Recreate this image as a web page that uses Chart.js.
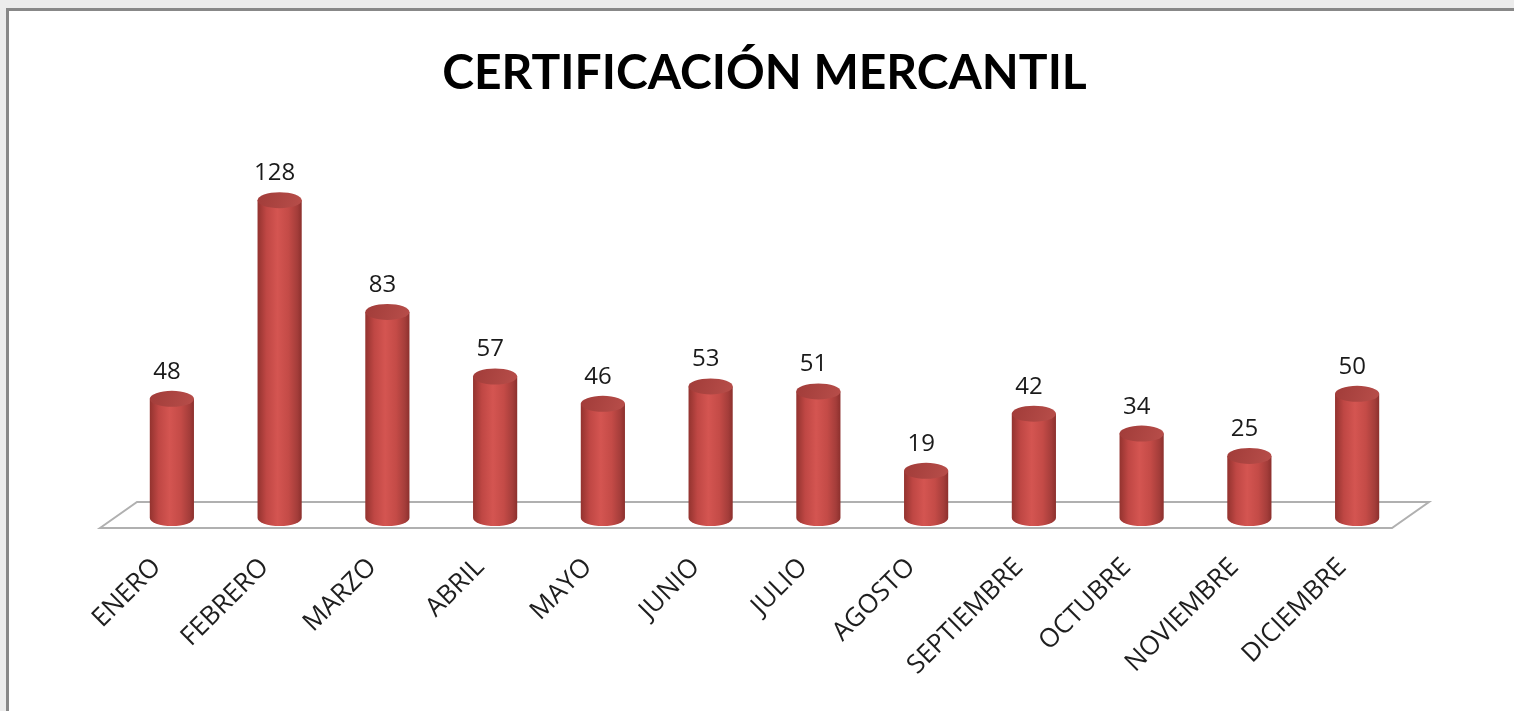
<!DOCTYPE html>
<html>
<head>
<meta charset="utf-8">
<script src="https://cdn.jsdelivr.net/npm/chart.js@4"></script>
<style>
	html, body { margin: 0; padding: 0; background: #ececec; overflow: hidden; }
	#frame {
		position: absolute; left: 6px; top: 8px; width: 1520px; height: 720px;
		background: #fff; border-left: 3px solid #888; border-top: 3px solid #888;
	}
	#chartBox { position: absolute; left: 0; top: 0; width: 1514px; height: 711px; }
</style>
</head>
<body>
<div id="frame"></div>
<div id="chartBox"><canvas id="graph"></canvas></div>
<script>
/*-------------------------------------------------------------------------*/
// Data
/*-------------------------------------------------------------------------*/
var meses = ['ENERO', 'FEBRERO', 'MARZO', 'ABRIL', 'MAYO', 'JUNIO', 'JULIO',
	'AGOSTO', 'SEPTIEMBRE', 'OCTUBRE', 'NOVIEMBRE', 'DICIEMBRE'];
var certificaciones = [48, 128, 83, 57, 46, 53, 51, 19, 42, 34, 25, 50];
var tituloGrafico = 'CERTIFICACIÓN MERCANTIL';

/*-------------------------------------------------------------------------*/
// Floor plane under the bars
/*-------------------------------------------------------------------------*/
var floorPlugin = {
	id: 'floor',
	beforeDatasetsDraw: function(chart) {
		var ctx = chart.ctx, a = chart.chartArea;
		var base = chart.scales.y.getPixelForValue(0);
		var fy = base + 10, by = base - 16;
		ctx.save();
		ctx.beginPath();
		ctx.moveTo(a.left - 18, fy);
		ctx.lineTo(a.left + 19, by);
		ctx.lineTo(a.right + 18, by);
		ctx.lineTo(a.right - 19, fy);
		ctx.closePath();
		ctx.fillStyle = '#fff';
		ctx.fill();
		ctx.lineWidth = 2;
		ctx.strokeStyle = '#b0b0b0';
		ctx.stroke();
		ctx.restore();
	}
};

/*-------------------------------------------------------------------------*/
// Cylinders + value labels
/*-------------------------------------------------------------------------*/
var cylinderPlugin = {
	id: 'cylinder',
	afterDatasetsDraw: function(chart) {
		var ctx = chart.ctx;
		var meta = chart.getDatasetMeta(0);
		ctx.save();
		meta.data.forEach(function(bar, i) {
			var rx = bar.width / 2, ry = 8;
			var x = bar.x, top = bar.y, base = bar.base;
			var g = ctx.createLinearGradient(x - rx, 0, x + rx, 0);
			g.addColorStop(0, '#93332f');
			g.addColorStop(0.2, '#bf4744');
			g.addColorStop(0.45, '#d45551');
			g.addColorStop(0.7, '#c44b47');
			g.addColorStop(0.9, '#a43d3a');
			g.addColorStop(1, '#8c302d');
			ctx.beginPath();
			ctx.moveTo(x - rx, top);
			ctx.lineTo(x - rx, base);
			ctx.ellipse(x, base, rx, ry, 0, Math.PI, 0, true);
			ctx.lineTo(x + rx, top);
			ctx.closePath();
			ctx.fillStyle = g;
			ctx.fill();
			var gt = ctx.createLinearGradient(x - rx, top - ry, x + rx, top + ry);
			gt.addColorStop(0, '#a13c39');
			gt.addColorStop(1, '#b84e4a');
			ctx.beginPath();
			ctx.ellipse(x, top, rx, ry, 0, 0, Math.PI * 2);
			ctx.fillStyle = gt;
			ctx.fill();

			ctx.fillStyle = '#1a1a1a';
			ctx.font = '24px "Open Sans"';
			ctx.textAlign = 'center';
			ctx.textBaseline = 'alphabetic';
			ctx.fillText(String(certificaciones[i]), x - 5, top - 20);
		});
		ctx.restore();
	}
};

function CM_graph_certificaciones(graphCTX) {
	var data = {
		type: 'bar',
		data: {
			labels: meses,
			datasets: [{
				data: certificaciones,
				backgroundColor: 'rgba(0,0,0,0)',
				borderWidth: 0,
				categoryPercentage: 1,
				barPercentage: 0.41
			}]
		},
		options: {
			responsive: false,
			animation: false,
			layout: { padding: { left: 118, right: 103, top: 0, bottom: 0 } },
			plugins: {
				legend: { display: false },
				tooltip: { enabled: false },
				title: {
					display: true,
					text: tituloGrafico,
					color: '#000',
					font: { family: 'Lato', size: 48, weight: 'bold', lineHeight: 1.2 },
					padding: { top: 45, bottom: 43 }
				}
			},
			scales: {
				y: { display: false, min: 0, max: 150 },
				x: {
					grid: { display: false, drawTicks: false },
					border: { display: false },
					ticks: {
						color: '#1e1e1e',
						font: { family: 'Open Sans', size: 26 },
						minRotation: 45, maxRotation: 45,
						padding: 34,
						labelOffset: -15
					},
					afterFit: function(scale) { scale.height = 193; }
				}
			}
		},
		plugins: [floorPlugin, cylinderPlugin]
	};
	new Chart(graphCTX, data);
}

var cv = document.getElementById('graph');
cv.width = 1514; cv.height = 711;
CM_graph_certificaciones(cv.getContext('2d'));
</script>
</body>
</html>
